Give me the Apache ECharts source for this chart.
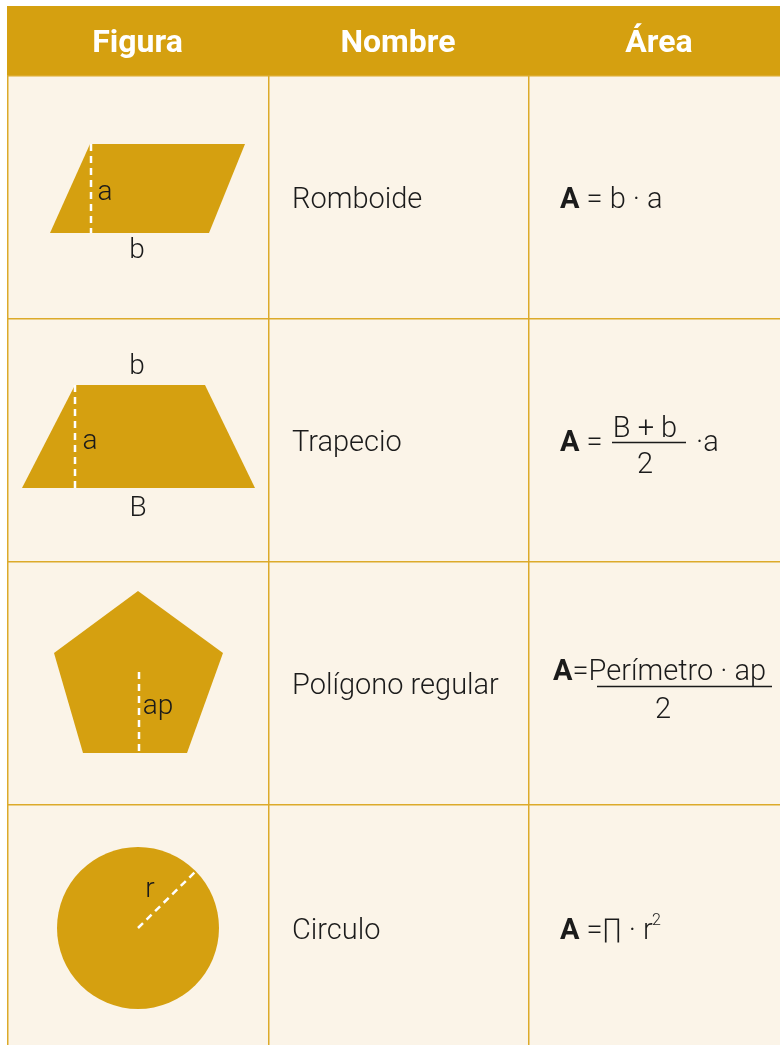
<!DOCTYPE html>
<html><head><meta charset="utf-8">
<script src="https://cdn.jsdelivr.net/npm/echarts/dist/echarts.min.js"></script>
<style>html,body{margin:0;padding:0;background:#ffffff}#c{width:780px;height:1045px}</style>
</head><body><div id="c"></div>
<script>
// ---- content ----
const headers = ['Figura', 'Nombre', 'Área'];
const nombres = ['Romboide', 'Trapecio', 'Polígono regular', 'Circulo'];

// shape geometry, local to each row (x from page left, y from row top)
const romboide = [[90, 69], [245, 69], [209, 158], [50, 158]];
const trapecio = [[75, 67], [205, 67], [255, 170], [22, 170]];
const pentagono = [[138, 30], [223, 92], [187, 192], [83, 192], [54, 92]];
const circulo = [138, 124, 81]; // cx, cy, r

const alturas = [[[91, 69], [91, 158]], [[75, 67], [75, 170]], [[139, 111], [139, 192]], [[138, 124], [196, 67]]];
const etiquetas = [
  [['a', 105, 115], ['b', 137, 173]],
  [['b', 137, 46], ['a', 90, 121], ['B', 138, 188]],
  [['ap', 158, 143]],
  [['r', 150, 83]]
];

// ---- layout ----
const GOLD = '#D5A010', LINE = '#DCAA2A', CREAM = '#FBF4E8', INK = '#1b1b1b';
const FONT = 'Roboto';
const TEXT_DY = 3;
const colEdges = [7, 268, 528, 790];
const rowEdges = [6, 75, 318, 561, 804, 1052];

const cells = [];
for (let r = 1; r < rowEdges.length - 1; r++)
  for (let c = 0; c < colEdges.length - 1; c++)
    cells.push([colEdges[c], rowEdges[r], colEdges[c + 1], r === rowEdges.length - 2 ? 1080 : rowEdges[r + 1]]);

function rowTop(i) { return rowEdges[i + 1]; }
function rowMid(i) { return (rowEdges[i + 1] + rowEdges[i + 2]) / 2; }

const chart = echarts.init(document.getElementById('c'), null, { renderer: 'canvas' });

const txt = (api, x, y, text, extra) => {
  const p = api.coord([x, y + TEXT_DY]);
  return { type: 'text', x: p[0], y: p[1], style: Object.assign({
    text: text, fill: INK, fontFamily: FONT, fontSize: 29, fontWeight: 300,
    align: 'left', verticalAlign: 'middle'
  }, extra || {}) };
};

const option = {
  animation: false,
  backgroundColor: '#ffffff',
  grid: { left: 0, right: 0, top: 0, bottom: 0 },
  xAxis: { type: 'value', min: 0, max: 780, show: false },
  yAxis: { type: 'value', min: 0, max: 1045, inverse: true, show: false },
  series: [
    { // body cells
      type: 'custom', name: 'celdas', silent: true,
      data: cells,
      renderItem: (params, api) => {
        const a = api.coord([api.value(0), api.value(1)]);
        const b = api.coord([api.value(2), api.value(3)]);
        return { type: 'rect', shape: { x: a[0] + 0.75, y: a[1] + 0.75, width: b[0] - a[0], height: b[1] - a[1] },
          style: { fill: CREAM, stroke: LINE, lineWidth: 1.5 } };
      }
    },
    { // header
      type: 'custom', name: 'encabezado', silent: true,
      data: headers.map((h, i) => [colEdges[i], rowEdges[0], colEdges[i + 1], rowEdges[1]]),
      renderItem: (params, api) => {
        const a = api.coord([api.value(0), api.value(1)]);
        const b = api.coord([api.value(2), api.value(3)]);
        const cx = (api.value(0) + api.value(2)) / 2;
        const cy = (api.value(1) + api.value(3)) / 2;
        return { type: 'group', children: [
          { type: 'rect', shape: { x: a[0], y: a[1], width: b[0] - a[0] + 1, height: b[1] - a[1] }, style: { fill: GOLD } },
          txt(api, cx, cy + 0.5, headers[params.dataIndex], { fill: '#ffffff', fontWeight: 'bold', fontSize: 32, align: 'center' })
        ] };
      }
    },
    { // shapes
      type: 'custom', name: 'figuras', silent: true,
      data: [[0, 0], [1, 0], [2, 0], [3, 0]],
      renderItem: (params, api) => {
        const i = params.dataIndex, t = rowTop(i);
        let el;
        if (i < 3) {
          const pts = [romboide, trapecio, pentagono][i].map(p => api.coord([p[0], t + p[1]]));
          el = { type: 'polygon', shape: { points: pts }, style: { fill: GOLD } };
        } else {
          const c = api.coord([circulo[0], t + circulo[1]]);
          const r = api.size([circulo[2], 0])[0];
          el = { type: 'circle', shape: { cx: c[0], cy: c[1], r: r }, style: { fill: GOLD } };
        }
        const h = alturas[i];
        const p1 = api.coord([h[0][0], t + h[0][1]]), p2 = api.coord([h[1][0], t + h[1][1]]);
        const dash = { type: 'line', shape: { x1: p1[0], y1: p1[1], x2: p2[0], y2: p2[1] },
          style: { stroke: '#ffffff', lineWidth: 2.5, lineDash: [7, 5] } };
        const labels = etiquetas[i].map(l => txt(api, l[1], t + l[2], l[0], { align: 'center', fontSize: 28 }));
        return { type: 'group', children: [el, dash].concat(labels) };
      }
    },
    { // names
      type: 'custom', name: 'nombres', silent: true,
      data: nombres.map((n, i) => [292, rowMid(i)]),
      renderItem: (params, api) => txt(api, api.value(0), api.value(1) + 1, nombres[params.dataIndex])
    },
    { // formulas
      type: 'custom', name: 'areas', silent: true,
      data: [[0, 0], [1, 0], [2, 0], [3, 0]],
      renderItem: (params, api) => {
        const i = params.dataIndex, m = rowMid(i);
        const rich = { b: { fontFamily: FONT, fontWeight: 'bold', fontSize: 29, fill: INK } };
        const kids = [];
        const ln = (x1, x2, y) => {
          const a = api.coord([x1, y]), b = api.coord([x2, y]);
          return { type: 'line', shape: { x1: a[0], y1: a[1], x2: b[0], y2: b[1] }, style: { stroke: INK, lineWidth: 1.5 } };
        };
        if (i === 0) {
          kids.push(txt(api, 560, m + 1, '{b|A} = b · a', { rich }));
        } else if (i === 1) {
          kids.push(txt(api, 560, m + 1, '{b|A} =', { rich }));
          kids.push(txt(api, 645, m - 13, 'B + b', { align: 'center' }));
          kids.push(ln(612, 686, m + 3));
          kids.push(txt(api, 645, m + 23, '2', { align: 'center' }));
          kids.push(txt(api, 696, m + 1, '·a'));
        } else if (i === 2) {
          kids.push(txt(api, 553, m - 13, '{b|A}=Perímetro · ap', { rich }));
          kids.push(ln(597, 772, m + 4));
          kids.push(txt(api, 663, m + 25, '2', { align: 'center' }));
        } else {
          kids.push(txt(api, 560, m + 1, '{b|A} =∏ · r', { rich }));
          kids.push(txt(api, 652, m - 10, '2', { fontSize: 16 }));
        }
        return { type: 'group', children: kids };
      }
    }
  ]
};
chart.setOption(option);
</script></body></html>
